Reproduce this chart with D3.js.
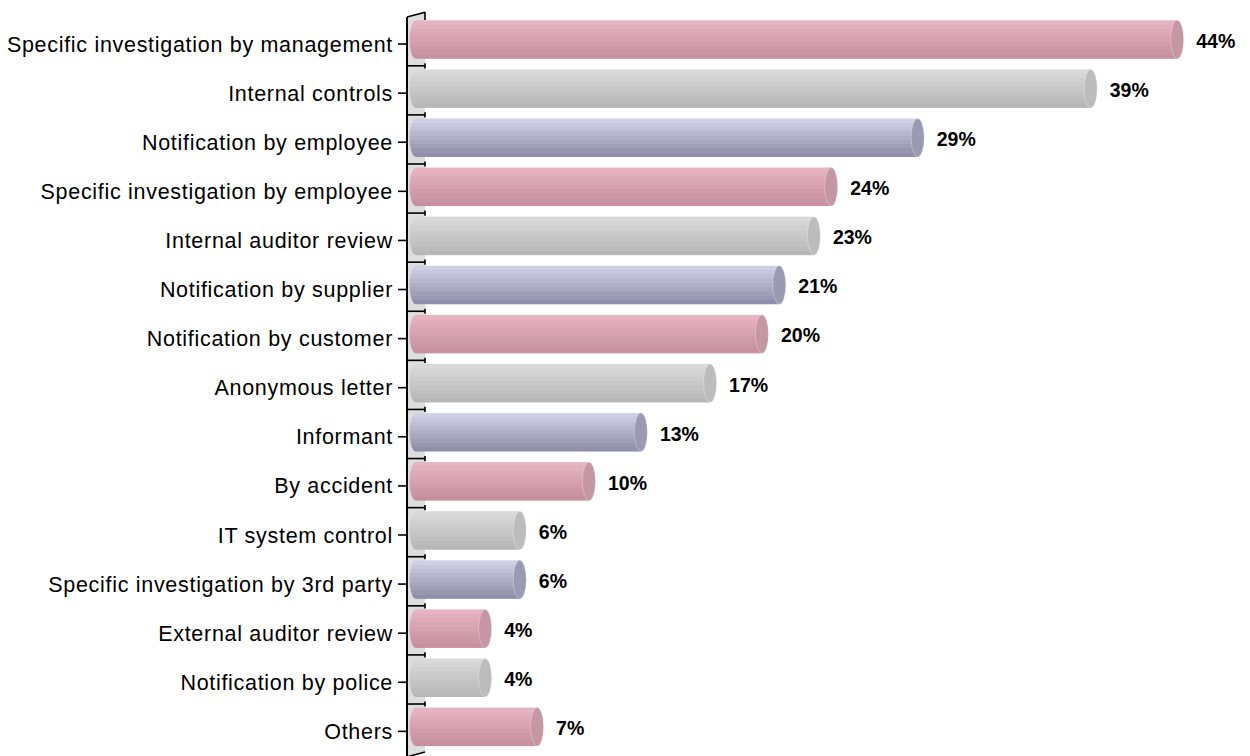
<!DOCTYPE html>
<html>
<head>
<meta charset="utf-8">
<script src="https://cdn.jsdelivr.net/npm/d3@7"></script>
<style>
  html, body { margin: 0; padding: 0; background: #ffffff; }
  svg { display: block; }
</style>
</head>
<body>
<svg id="chart" width="1250" height="756"></svg>
<script>
// How fraud was detected (share of respondents)
const categories = [
  "Specific investigation by management",
  "Internal controls",
  "Notification by employee",
  "Specific investigation by employee",
  "Internal auditor review",
  "Notification by supplier",
  "Notification by customer",
  "Anonymous letter",
  "Informant",
  "By accident",
  "IT system control",
  "Specific investigation by 3rd party",
  "External auditor review",
  "Notification by police",
  "Others"
];
const values = [44, 39, 29, 24, 23, 21, 20, 17, 13, 10, 6, 6, 4, 4, 7];
const valueLabels = ["44%", "39%", "29%", "24%", "23%", "21%", "20%", "17%", "13%", "10%", "6%", "6%", "4%", "4%", "7%"];
const barTones = ["pink", "gray", "purple", "pink", "gray", "purple", "pink", "gray", "purple",
                  "pink", "gray", "purple", "pink", "gray", "pink"];

// tone -> [top colour, bottom colour, end-cap colour]
const tones = {
  pink:   ["#e6b3c0", "#c6909e", "#c596a4"],
  gray:   ["#d9d9d9", "#b7b7b7", "#bcbcbc"],
  purple: ["#cfcfe6", "#8f8fa9", "#9a9ab3"]
};

const svg = d3.select("#chart");
const defs = svg.append("defs");

// Banded vertical gradients for the cylinder bodies
Object.entries(tones).forEach(([name, c]) => {
  const g = defs.append("linearGradient")
    .attr("id", "grad-" + name)
    .attr("x1", 0).attr("y1", 0).attr("x2", 0).attr("y2", 1);
  const steps = 9;
  const interp = d3.interpolateRgb(c[0], c[1]);
  for (let s = 0; s < steps; s++) {
    const col = interp(s / (steps - 1));
    g.append("stop").attr("offset", s / steps).attr("stop-color", col);
    g.append("stop").attr("offset", (s + 1) / steps).attr("stop-color", col);
  }
});

const x = d3.scaleLinear().domain([0, 50]).range([416, 1281]);
const y = d3.scaleBand().domain(categories).range([19.5, 755.9]).padding(0);

const wallFront = 407, wallBack = 425;
const depthShift = 4.5;     // vertical shift of the back plane
const barH = 38.5;
const capRx = 6.5;

// Back wall of the 3D axis
const yTop = y.range()[0], yBot = y.range()[1];
svg.append("path")
  .attr("d", `M${wallFront},${yTop - 2.5} L${wallBack},${yTop - 7.2} L${wallBack},${yBot - 4} L${wallFront},${yBot + 1} Z`)
  .attr("fill", "#dedede");

const axisG = svg.append("g").attr("stroke", "#000").attr("fill", "none");
// top and bottom slanted edges
axisG.append("line")
  .attr("x1", wallFront).attr("y1", yTop - 2.5).attr("x2", wallBack).attr("y2", yTop - 7.2)
  .attr("stroke-width", 1.6);
axisG.append("line")
  .attr("x1", wallBack).attr("y1", yTop - 7.5).attr("x2", wallBack).attr("y2", yTop + 0.5)
  .attr("stroke-width", 1.6);
axisG.append("line")
  .attr("x1", wallFront).attr("y1", yBot + 1).attr("x2", wallBack).attr("y2", yBot - 4)
  .attr("stroke-width", 1.6);

// category boundaries across the floor of the wall
const boundaries = categories.slice(1).map(c => y(c) - 2.8);
boundaries.forEach(b => {
  axisG.append("line")
    .attr("x1", wallFront).attr("y1", b).attr("x2", wallBack).attr("y2", b)
    .attr("stroke-width", 1.6);
  axisG.append("line")
    .attr("x1", wallBack).attr("y1", b - 2.6).attr("x2", wallBack).attr("y2", b + 2.6)
    .attr("stroke-width", 1.6);
});

// front axis line
axisG.append("line")
  .attr("x1", wallFront).attr("y1", yTop - 2.5).attr("x2", wallFront).attr("y2", 756)
  .attr("stroke-width", 2);

// category tick marks
categories.forEach(c => {
  const cy = y(c) + y.bandwidth() / 2;
  axisG.append("line")
    .attr("x1", 398).attr("y1", cy).attr("x2", wallFront).attr("y2", cy)
    .attr("stroke-width", 1.6);
});

// Cylinder bars
const bars = svg.append("g").selectAll("g.bar")
  .data(categories.map((c, i) => ({ c, v: values[i], label: valueLabels[i], tone: barTones[i] })))
  .join("g").attr("class", "bar");

bars.each(function(d) {
  const g = d3.select(this);
  const cy = y(d.c) + y.bandwidth() / 2 - depthShift;
  const x0 = x(0), x1 = x(d.v);
  const fill = `url(#grad-${d.tone})`;
  g.append("ellipse")
    .attr("cx", x0).attr("cy", cy).attr("rx", capRx).attr("ry", barH / 2)
    .attr("fill", fill);
  g.append("rect")
    .attr("x", x0).attr("y", cy - barH / 2).attr("width", x1 - x0).attr("height", barH)
    .attr("fill", fill);
  g.append("ellipse")
    .attr("cx", x1).attr("cy", cy).attr("rx", capRx).attr("ry", barH / 2)
    .attr("fill", tones[d.tone][2])
    .attr("stroke", "#ffffff").attr("stroke-opacity", 0.35).attr("stroke-width", 0.8);
  g.append("text")
    .attr("x", x1 + 19).attr("y", cy + 1.5)
    .attr("dy", "0.35em")
    .attr("font-family", "Liberation Sans, Arial, sans-serif")
    .attr("font-weight", "bold")
    .attr("font-size", "19.5px")
    .attr("fill", "#000")
    .text(d.label);
});

// Category labels
svg.append("g").selectAll("text")
  .data(categories)
  .join("text")
  .attr("x", 393)
  .attr("y", c => y(c) + y.bandwidth() / 2)
  .attr("dy", "0.35em")
  .attr("text-anchor", "end")
  .attr("font-family", "Liberation Sans, Arial, sans-serif")
  .attr("font-size", "21.5px")
  .attr("letter-spacing", "0.7px")
  .attr("fill", "#000")
  .text(c => c);
</script>
</body>
</html>
